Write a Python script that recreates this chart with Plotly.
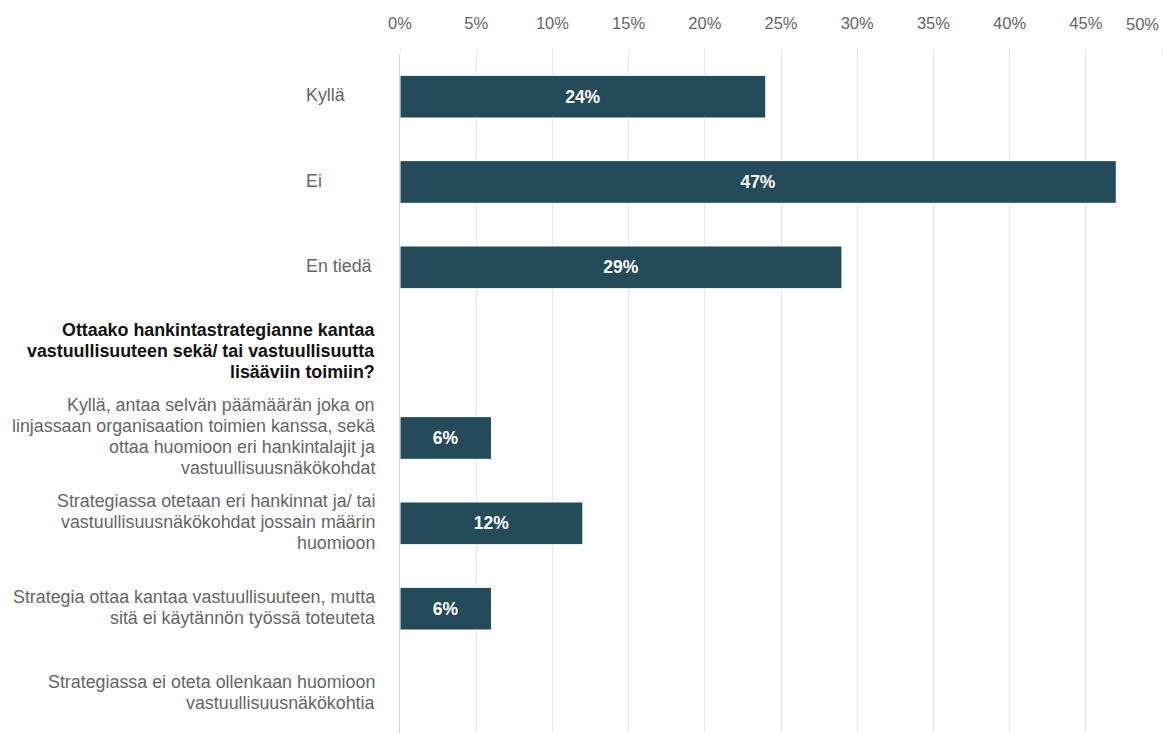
import plotly.graph_objects as go

# ---- data ----
row_labels = [
    ["Kyllä"],
    ["Ei"],
    ["En tiedä"],
    ["Ottaako hankintastrategianne kantaa", "vastuullisuuteen sekä/ tai vastuullisuutta", "lisääviin toimiin?"],
    ["Kyllä, antaa selvän päämäärän joka on", "linjassaan organisaation toimien kanssa, sekä", "ottaa huomioon eri hankintalajit ja", "vastuullisuusnäkökohdat"],
    ["Strategiassa otetaan eri hankinnat ja/ tai", "vastuullisuusnäkökohdat jossain määrin", "huomioon"],
    ["Strategia ottaa kantaa vastuullisuuteen, mutta", "sitä ei käytännön työssä toteuteta"],
    ["Strategiassa ei oteta ollenkaan huomioon", "vastuullisuusnäkökohtia"],
]
values = [24, 47, 29, None, 6, 12, 6, 0]
tick_vals = [0, 5, 10, 15, 20, 25, 30, 35, 40, 45, 50]
tick_text = ["0%", "5%", "10%", "15%", "20%", "25%", "30%", "35%", "40%", "45%", ""]

FONT = "Liberation Sans, Arial, sans-serif"
BAR = "#234b59"
LABEL_SIZE = 17.85
TICK_SIZE = 16.5

ypos = list(range(len(values)))
texts = [f"{v}%" if v else "" for v in values]

fig = go.Figure()
fig.add_trace(go.Bar(
    x=[v if v is not None else 0 for v in values],
    y=ypos,
    orientation="h",
    width=0.5,
    marker=dict(color=BAR, line=dict(color="#ffffff", width=1)),
    text=texts,
    textposition="inside",
    insidetextanchor="middle",
    textangle=0,
    insidetextfont=dict(family=FONT, size=17.5, color="#ffffff", weight="bold"),
    hoverinfo="skip",
))

annotations = []
LINE = 20.7
for i, lines in enumerate(row_labels):
    n = len(lines)
    simple = i < 3
    bold = (i == 3)
    for j, ln in enumerate(lines):
        off = ((n - 1) / 2 - j) * LINE + 1.5
        annotations.append(dict(
            xref="paper", yref="y", x=0, y=i,
            xanchor="left" if simple else "right",
            xshift=-96 if simple else -23,
            yshift=off,
            yanchor="middle",
            text=f"<b>{ln}</b>" if bold else ln,
            showarrow=False,
            font=dict(family=FONT, size=LABEL_SIZE, color="#111111" if bold else "#666666"),
        ))

annotations.append(dict(
    xref="x", yref="paper", x=50, y=1, xanchor="right", yanchor="middle",
    xshift=-1, yshift=30, text="50%", showarrow=False,
    font=dict(family=FONT, size=TICK_SIZE, color="#666666"),
))

fig.update_layout(
    width=1163, height=733,
    margin=dict(l=400, r=1, t=54, b=0),
    paper_bgcolor="#ffffff", plot_bgcolor="#ffffff",
    showlegend=False,
    bargap=0.5,
    annotations=annotations,
    font=dict(family=FONT, size=LABEL_SIZE, color="#666666"),
    xaxis=dict(
        side="top", range=[0, 50], tickvals=tick_vals, ticktext=tick_text,
        showgrid=True, gridcolor="#e6e6e6", gridwidth=1,
        zeroline=False, ticks="outside", ticklen=5, tickcolor="#e6e6e6",
        ticklabelstandoff=12,
        tickfont=dict(family=FONT, size=TICK_SIZE, color="#666666"),
        fixedrange=True,
    ),
    yaxis=dict(
        range=[7.457, -0.5], showticklabels=False, showgrid=False,
        zeroline=False, showline=True, linecolor="#ccd6eb", linewidth=1,
        ticks="", fixedrange=True,
    ),
)

fig.write_html("out.html", config={"displayModeBar": False})
